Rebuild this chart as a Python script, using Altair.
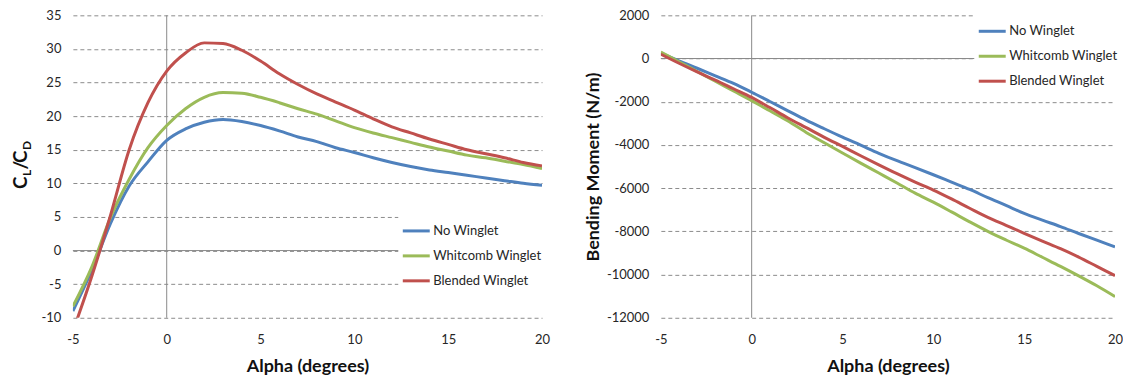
import altair as alt
import pandas as pd

FONT = "Lato"

alpha = list(range(-5, 21))
series_names = ["No Winglet", "Whitcomb Winglet", "Blended Winglet"]
series_colors = ["#4F81BD", "#9BBB59", "#C0504D"]

# Lift-to-drag ratio CL/CD
cl_cd_no = [-9.0, -3.0, 4.0, 9.6, 13.2, 16.4, 18.1, 19.1, 19.5, 19.2, 18.6, 17.8, 16.9,
            16.2, 15.3, 14.6, 13.8, 13.1, 12.5, 12.0, 11.6, 11.2, 10.8, 10.4, 10.0, 9.7]
cl_cd_wh = [-8.3, -2.5, 4.9, 10.6, 15.3, 18.6, 21.1, 22.8, 23.5, 23.4, 22.8, 22.0, 21.1,
            20.3, 19.3, 18.3, 17.5, 16.8, 16.1, 15.4, 14.8, 14.2, 13.8, 13.3, 12.8, 12.2]
cl_cd_bl = [-12.0, -3.9, 5.2, 15.0, 22.0, 26.7, 29.4, 30.9, 30.8, 29.8, 28.2, 26.3, 24.7,
            23.3, 22.1, 20.9, 19.6, 18.4, 17.5, 16.6, 15.8, 15.0, 14.4, 13.8, 13.1, 12.6]

# Bending moment (N/m)
bm_no = [250, -110, -450, -800, -1150, -1560, -1990, -2420, -2850, -3250, -3640, -4010, -4385,
         -4730, -5050, -5380, -5720, -6060, -6440, -6800, -7170, -7480, -7780, -8100, -8410, -8720]
bm_wh = [300, -150, -600, -1050, -1500, -1950, -2420, -2890, -3420, -3900, -4370, -4840, -5300,
         -5760, -6230, -6650, -7100, -7560, -8000, -8400, -8780, -9200, -9620, -10060, -10520, -11020]
bm_bl = [200, -220, -620, -1000, -1400, -1800, -2270, -2750, -3200, -3650, -4070, -4500, -4920,
         -5330, -5720, -6090, -6500, -6930, -7350, -7720, -8090, -8450, -8800, -9190, -9620, -10050]

cl_ticks = list(range(-10, 36, 5))
bm_ticks = list(range(-12000, 2001, 2000))
x_ticks = [-5, 0, 5, 10, 15, 20]


def long_df(vals_list, col):
    rows = []
    for name, vals in zip(series_names, vals_list):
        for a, v in zip(alpha, vals):
            rows.append({"alpha": a, col: v, "series": name})
    return pd.DataFrame(rows)


df_cl = long_df([cl_cd_no, cl_cd_wh, cl_cd_bl], "clcd")
df_bm = long_df([bm_no, bm_wh, bm_bl], "bm")
one = alt.Data(values=[{"k": 1}])

LABEL_EXPR = "'' + datum.value"


def x_enc():
    return alt.X(
        "alpha:Q",
        scale=alt.Scale(domain=[-5, 20], nice=False, zero=False),
        axis=alt.Axis(values=x_ticks, grid=False, domain=False, ticks=False,
                      labelPadding=16, labelFlush=False, labelOverlap=False,
                      labelExpr=LABEL_EXPR, title="Alpha (degrees)", titlePadding=11),
    )


def y_enc(field, dom, ticks, title, title_pad=4):
    return alt.Y(
        field,
        scale=alt.Scale(domain=dom, nice=False, zero=False),
        axis=alt.Axis(values=ticks, grid=True, gridDash=[4, 3], gridColor="#8c8c8c",
                      gridWidth=1, domain=False, ticks=False, labelPadding=12,
                      labelFlush=False, labelOverlap=False, labelExpr=LABEL_EXPR,
                      title=title, titlePadding=title_pad),
    )


def color_enc(lx, ly):
    return alt.Color(
        "series:N", sort=series_names,
        scale=alt.Scale(domain=series_names, range=series_colors),
        legend=alt.Legend(title=None, orient="none", legendX=lx, legendY=ly,
                          fillColor="white", padding=3, symbolType="stroke",
                          symbolSize=729, symbolStrokeWidth=3, labelFont=FONT,
                          labelFontSize=13, labelColor="#262626", labelOffset=2,
                          rowPadding=3, labelLimit=250),
    )


def zero_rules(yfield, dom, ticks, title):
    zx = alt.Chart(pd.DataFrame({"alpha": [0]})).mark_rule(
        color="#8a8a8a", strokeWidth=1).encode(x=x_enc())
    zy = alt.Chart(pd.DataFrame({yfield: [0]})).mark_rule(
        color="#8a8a8a", strokeWidth=1).encode(y=y_enc(yfield + ":Q", dom, ticks, title))
    return zx, zy


# ---- left chart ----
zx1, zy1 = zero_rules("clcd", [-10, 35], cl_ticks, "")
lines1 = alt.Chart(df_cl).mark_line(strokeWidth=3, interpolate="monotone", clip=True).encode(
    x=x_enc(),
    y=y_enc("clcd:Q", [-10, 35], cl_ticks, ""),
    color=color_enc(326, 198),
)


def tpiece(txt, size, xpos, ypos):
    return alt.Chart(one).mark_text(
        text=txt, font=FONT, fontSize=size, fontWeight="bold", angle=270,
        align="left", baseline="alphabetic", color="#111111",
    ).encode(x=alt.value(xpos), y=alt.value(ypos))


title_parts = [
    tpiece("C", 19, -46, 174),
    tpiece("L", 12, -42, 161),
    tpiece("/", 19, -46, 154.5),
    tpiece("C", 19, -46, 148),
    tpiece("D", 12, -42, 135),
]

left = alt.layer(zx1, zy1, lines1, *title_parts).properties(width=470, height=303)

# ---- right chart ----
zx2, zy2 = zero_rules("bm", [-12000, 2000], bm_ticks, "Bending Moment (N/m)")
lines2 = alt.Chart(df_bm).mark_line(strokeWidth=3, interpolate="monotone", clip=True).encode(
    x=x_enc(),
    y=y_enc("bm:Q", [-12000, 2000], bm_ticks, "Bending Moment (N/m)"),
    color=color_enc(314, -2),
)
right = alt.layer(zx2, zy2, lines2).properties(width=455, height=303)

chart = (
    alt.hconcat(left, right, spacing=34)
    .resolve_scale(color="independent")
    .resolve_legend(color="independent")
    .properties(padding={"left": 4, "top": 1, "right": 0, "bottom": 0}, background="white")
    .configure_axis(labelFont=FONT, labelFontSize=13, labelColor="#262626",
                    titleFont=FONT, titleFontSize=18, titleFontWeight="bold", titleColor="#111111")
    .configure_view(stroke=None)
)

chart.save("out.html", embed_options={"renderer": "svg", "actions": False})
